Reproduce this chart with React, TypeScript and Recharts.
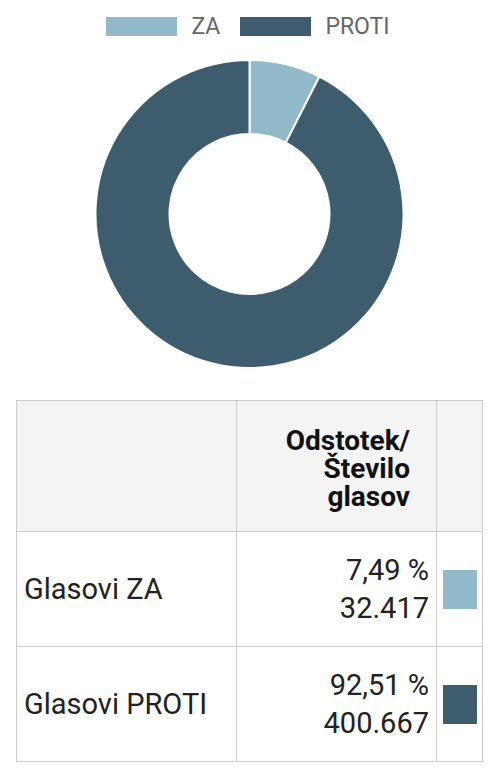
import React from "react";
import { PieChart, Pie, Cell, Legend } from "recharts";

const categories = ["ZA", "PROTI"];
const rowLabels = ["Glasovi ZA", "Glasovi PROTI"];
const percentLabels = ["7,49 %", "92,51 %"];
const voteCounts = [32417, 400667];
const voteLabels = ["32.417", "400.667"];
const colors = ["#92b9ca", "#3d5c6d"];

const data = categories.map((name, i) => ({ name, value: voteCounts[i] }));

const renderLegend = () => (
  <div style={{ display: "flex", justifyContent: "center", alignItems: "center", height: 52, fontFamily: "Roboto, sans-serif" }}>
    {categories.map((c, i) => (
      <div key={c} style={{ display: "flex", alignItems: "center", marginLeft: i === 0 ? 0 : 20 }}>
        <div style={{ width: 71, height: 19, background: colors[i] }} />
        <span style={{ marginLeft: 14, fontSize: 23, color: "#666666" }}>{c}</span>
      </div>
    ))}
  </div>
);

const border = "1px solid #cccccc";

export default function App() {
  return (
    <div style={{ position: "absolute", left: 0, top: 0, width: 496, height: 774, background: "#ffffff", fontFamily: "Roboto, sans-serif" }}>
      <div style={{ position: "absolute", left: 0, top: 0 }}>
        <PieChart width={496} height={380} margin={{ top: 0, right: 0, bottom: 0, left: 0 }}>
          <Legend verticalAlign="top" align="center" height={52} content={renderLegend} wrapperStyle={{ top: 0, left: 0, width: 496 }} />
          <Pie
            data={data}
            dataKey="value"
            nameKey="name"
            cx={249.5}
            cy={162}
            outerRadius={154}
            innerRadius={80}
            startAngle={90}
            endAngle={-270}
            stroke="#ffffff"
            strokeWidth={2}
            isAnimationActive={false}
          >
            {data.map((d, i) => (
              <Cell key={d.name} fill={colors[i]} />
            ))}
          </Pie>
        </PieChart>
      </div>
      <table
        style={{
          position: "absolute",
          left: 16,
          top: 400,
          width: 467,
          borderCollapse: "collapse",
          tableLayout: "fixed",
          color: "#1a1a1a",
        }}
      >
        <colgroup>
          <col style={{ width: 220 }} />
          <col style={{ width: 200 }} />
          <col style={{ width: 46 }} />
        </colgroup>
        <thead>
          <tr style={{ height: 131, background: "#f4f4f4" }}>
            <th style={{ border }} />
            <th
              style={{
                border,
                textAlign: "right",
                paddingRight: 26,
                fontSize: 28,
                lineHeight: "28px",
                fontWeight: 700,
                color: "#111111",
                verticalAlign: "middle",
                paddingTop: 6,
              }}
            >
              Odstotek/
              <br />
              Število
              <br />
              glasov
            </th>
            <th style={{ border }} />
          </tr>
        </thead>
        <tbody>
          {rowLabels.map((label, i) => (
            <tr key={label} style={{ height: 115 }}>
              <td style={{ border, paddingLeft: 7, fontSize: 29, verticalAlign: "middle", color: "#222222" }}>{label}</td>
              <td style={{ border, paddingRight: 7, textAlign: "right", fontSize: 29, lineHeight: "38px", verticalAlign: "middle", color: "#222222" }}>
                {percentLabels[i]}
                <br />
                {voteLabels[i]}
              </td>
              <td style={{ border, padding: 0, verticalAlign: "middle" }}>
                <div style={{ width: 34, height: 39, background: colors[i], marginLeft: 6 }} />
              </td>
            </tr>
          ))}
        </tbody>
      </table>
    </div>
  );
}
